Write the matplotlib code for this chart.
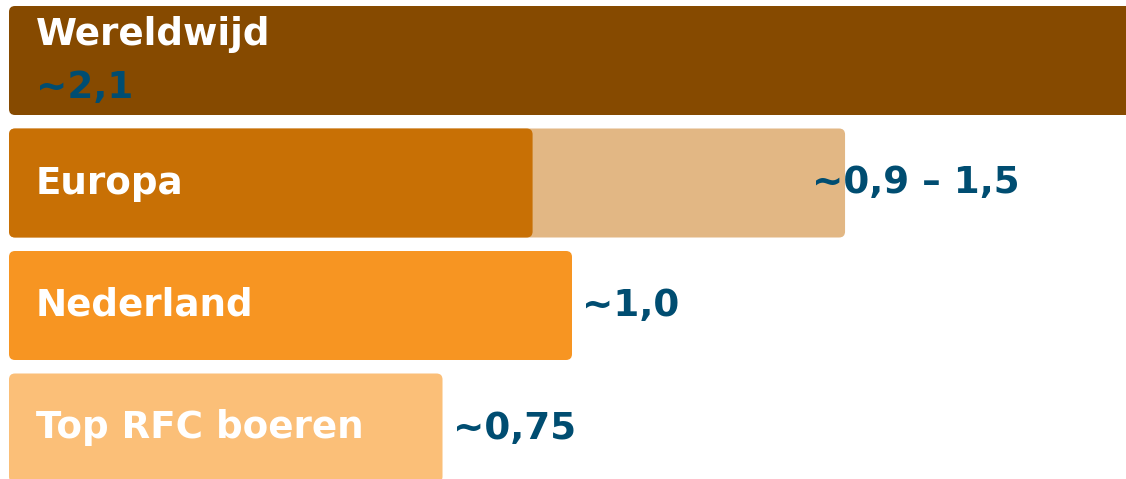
import numpy as np
import matplotlib
matplotlib.use("Agg")
import matplotlib.pyplot as plt
from matplotlib.patches import FancyBboxPatch

# bar lengths (Nederland = 1,0 as the reference)
categories = ["Wereldwijd", "Europa", "Nederland", "Top RFC boeren"]
bar_main = [2.1, 0.93, 1.0, 0.77]
bar_range_end = [None, 1.485, None, None]
value_labels = ["~2,1", "~0,9 – 1,5", "~1,0", "~0,75"]

main_colors = ["#864A00", "#C87005", "#F79522", "#FBBF78"]
range_color = "#E2B784"
value_color = "#004D71"

W, H = 1126, 479
PX_X = 563.0     # pixels per unit along x
PX_Y = 122.5     # pixels per row
X0 = 9.0         # bars start here (px)
ROW0 = 60.5      # centre of first row (px)
BAR_H = 109 / PX_Y
RAD = 6.0        # corner radius in px
PT = 0.72        # px -> points at dpi 100

fig = plt.figure(figsize=(W / 100, H / 100), dpi=100)
ax = fig.add_axes([0, 0, 1, 1])
ax.set_xlim(-X0 / PX_X, (W - X0) / PX_X)
ax.set_ylim((H - ROW0) / PX_Y, -ROW0 / PX_Y)
ax.axis("off")


def rbar(ax, x0, x1, y, color, z=2):
    box = FancyBboxPatch((x0, y - BAR_H / 2), x1 - x0, BAR_H,
                         boxstyle=f"round,pad=0,rounding_size={RAD / PX_X}",
                         mutation_aspect=PX_X / PX_Y,
                         facecolor=color, edgecolor="none", zorder=z)
    ax.add_patch(box)


txt = dict(fontsize=26.8, fontweight="bold", family="DejaVu Sans", zorder=5,
           textcoords="offset points", va="center", ha="left")

for i, cat in enumerate(categories):
    if bar_range_end[i] is not None:
        rbar(ax, 0, bar_range_end[i], i, range_color, z=1)
    rbar(ax, 0, bar_main[i], i, main_colors[i], z=2)

    if i == 0:
        # widest bar: name and value stacked inside
        ax.annotate(cat, (0, i), xytext=(27 * PT, 26 * PT), color="white", **txt)
        ax.annotate(value_labels[i], (0, i), xytext=(27 * PT, -27 * PT),
                    color=value_color, **txt)
        continue
    ax.annotate(cat, (0, i), xytext=(27 * PT, 0), color="white", **txt)
    if bar_range_end[i] is not None:
        ax.annotate(value_labels[i], (bar_range_end[i], i), xytext=(-33 * PT, 0),
                    color=value_color, **txt)
    else:
        ax.annotate(value_labels[i], (bar_main[i], i), xytext=(10 * PT, 0),
                    color=value_color, **txt)

fig.savefig("out.png", dpi=100)
